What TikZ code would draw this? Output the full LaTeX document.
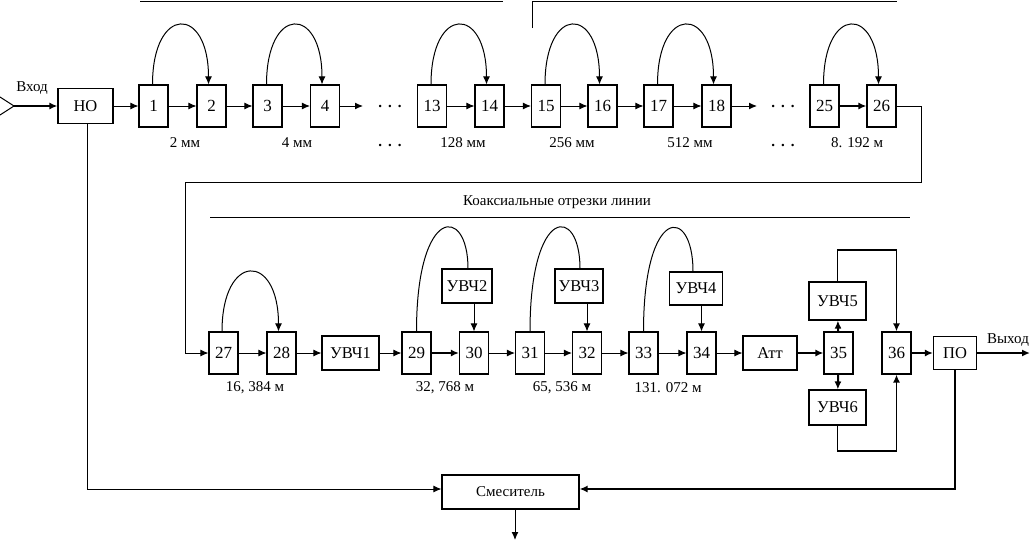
\documentclass[tikz,border=0pt]{standalone}
\usepackage{fontspec}
\setmainfont{Liberation Serif}
\usetikzlibrary{arrows.meta}
\begin{document}
\begin{tikzpicture}[x=1pt,y=-1pt,
  every node/.style={font=\fontsize{15}{17}\selectfont},
  blk/.style={draw,line width=1.1pt,minimum width=29pt,minimum height=42pt,inner sep=0pt,font=\fontsize{17}{19}\selectfont},
  wbox/.style={draw,line width=1.1pt,inner sep=0pt,font=\fontsize{16.5}{19}\selectfont},
  arr/.style={-{Latex[length=8pt,width=7pt]},line width=1pt},
  tarr/.style={arr,line width=2pt},
  ln/.style={line width=1pt},
  tln/.style={line width=2pt},
  dots/.style={inner sep=0pt,font=\fontsize{15}{17}\selectfont\bfseries}]
\useasboundingbox (0,0) rectangle (1031,541);

% ---------- top row ----------
\node[wbox,minimum width=55pt,minimum height=35pt] (no1) at (85.5,106) {НО};
\foreach \n/\x in {1/153.5,2/211.5,3/267.5,4/325,13/432,14/489.5,15/546,16/602.5,17/658.5,18/716.5,25/824.5,26/881.5}
  \node[blk] (b\n) at (\x,106) {\n};
\node[dots] (d1) at (390,106) {.\hspace{6pt}.\hspace{6pt}.};
\node[dots] (d2) at (783,106) {.\hspace{6pt}.\hspace{6pt}.};
\coordinate (e4) at (363,106);
\coordinate (e18) at (757,106);

% input
\coordinate (inp) at (14,106);
\draw[ln] (0,97) -- (inp) -- (0,115);
\node (vhod) at (32,88) {Вход};
\draw[tarr] (inp) -- (no1);

\draw[arr] (no1) -- (b1);
\draw[arr] (b1) -- (b2);
\draw[arr] (b2) -- (b3);
\draw[arr] (b3) -- (b4);
\draw[arr] (b4) -- (e4);
\draw[arr] (b13) -- (b14);
\draw[arr] (b14) -- (b15);
\draw[arr] (b15) -- (b16);
\draw[arr] (b16) -- (b17);
\draw[arr] (b17) -- (b18);
\draw[arr] (b18) -- (e18);
\draw[tarr] (b25) -- (b26);

% arcs top row
\foreach \a/\b in {1/2,3/4,13/14,15/16,17/18,25/26}
  \draw[arr] ([xshift=-1pt]b\a.north) .. controls ([xshift=-1pt]b\a.north |- 0,5) and ([xshift=-3pt]b\b.north |- 0,5) .. ([xshift=-3pt]b\b.north);

% labels top row
\node at (185,143) {2 мм};
\node at (297,143) {4 мм};
\node[dots] at (390,145) {.\hspace{6pt}.\hspace{6pt}.};
\node at (463,143) {128 мм};
\node at (572,143) {256 мм};
\node at (690,143) {512 мм};
\node[dots] at (783,145) {.\hspace{6pt}.\hspace{6pt}.};
\node at (857,143) {8. 192 м};

% top brackets
\draw[ln] (140,1) -- (503,1);
\draw[ln] (532,28) -- (532,1) -- (897,1);

% ---------- second row ----------
\foreach \n/\x in {27/223.5,28/281.5,29/416.5,30/474,31/530,32/587,33/643.5,34/701.5,35/838.5,36/896.5}
  \node[blk] (b\n) at (\x,353) {\n};
\node[wbox,minimum width=57pt,minimum height=34pt] (u1) at (350.5,353) {УВЧ1};
\node[wbox,minimum width=50pt,minimum height=34pt] (u2) at (467,286) {УВЧ2};
\node[wbox,minimum width=48pt,minimum height=34pt] (u3) at (579,286) {УВЧ3};
\node[wbox,minimum width=53pt,minimum height=33pt] (u4) at (696,288.5) {УВЧ4};
\node[wbox,minimum width=57pt,minimum height=38pt] (u5) at (837.5,301) {УВЧ5};
\node[wbox,minimum width=57pt,minimum height=35pt] (u6) at (837.5,407.5) {УВЧ6};
\node[wbox,minimum width=54pt,minimum height=34pt] (att) at (770,353) {Атт};
\node[wbox,minimum width=43pt,minimum height=33pt] (po) at (955,353) {ПО};
\node[wbox,minimum width=137pt,minimum height=34pt,font=\fontsize{15}{17}\selectfont] (mix) at (510.5,492) {Смеситель};

% connection 26 -> 27
\draw[arr] (b26.east) -- (921,106) -- (921,182) -- (185,182) -- (185,353) -- (b27.west);

% heading
\node (coax) at (557,202) {Коаксиальные отрезки линии};
\draw[ln] (210,217) -- (910,217);

\draw[arr] (b27) -- (b28);
\draw[arr] (b28) -- (u1);
\draw[arr] (u1) -- (b29);
\draw[tarr] (b29) -- (b30);
\draw[arr] (b30) -- (b31);
\draw[arr] (b31) -- (b32);
\draw[arr] (b32) -- (b33);
\draw[arr] (b33) -- (b34);
\draw[arr] (b34) -- (att);
\draw[tarr] (att) -- (b35);
\draw[tarr] (b35) -- (u5);
\draw[tarr] (b35) -- (u6);
\draw[tarr] (b36) -- (po);
\coordinate (out) at (1030,353);
\draw[tarr] (po) -- (out);
\node (vyhod) at (1008,340) {Выход};

% arc 27 -> 28
\draw[arr] ([xshift=-1.5pt]b27.north) .. controls ([xshift=-1.5pt]b27.north |- 0,252) and ([xshift=-3pt]b28.north |- 0,252) .. ([xshift=-3pt]b28.north);

% arcs to amplifiers
\draw[ln] (b29.north) .. controls (b29.north |- 0,205) and ([xshift=1pt]u2.north |- 0,205) .. ([xshift=1pt]u2.north);
\draw[ln] (b31.north) .. controls (b31.north |- 0,205) and ([xshift=1pt]u3.north |- 0,205) .. ([xshift=1pt]u3.north);
\draw[ln] (b33.north) .. controls (b33.north |- 0,205) and ([xshift=-3pt]u4.north |- 0,205) .. ([xshift=-3pt]u4.north);

\draw[arr] (u2.south -| b30) -- (b30.north);
\draw[arr] (u3.south -| b32) -- (b32.north);
\draw[arr] (u4.south -| b34) -- (b34.north);

% amplifier loops to 36
\draw[arr,line width=1.6pt] (u5.north) -- (u5.north |- 0,250) -- (b36.north |- 0,250) -- (b36.north);
\draw[arr,line width=1.6pt] (u6.south) -- (u6.south |- 0,451) -- (b36.south |- 0,451) -- (b36.south);

% labels second row
\node at (255,388) {16, 384 м};
\node at (445,388) {32, 768 м};
\node at (562,388) {65, 536 м};
\node at (668,388) {131. 072 м};

% mixer connections
\draw[arr] (no1.south -| 87,0) -- (87,489) -- (mix.west |- 0,489);
\draw[tarr] (po.south) -- (po.south |- 0,489) -- (mix.east |- 0,489);
\coordinate (mixout) at (515,540);
\draw[arr] (mix.south -| mixout) -- (mixout);
\end{tikzpicture}
\end{document}
